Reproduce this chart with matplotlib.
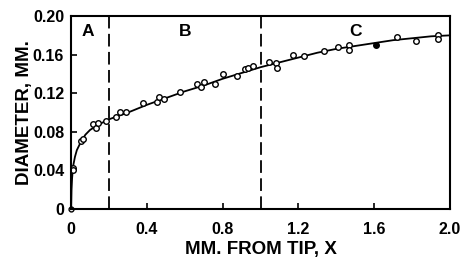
import numpy as np
import matplotlib.pyplot as plt

plt.rcParams["font.family"] = "Liberation Sans"
plt.rcParams["font.weight"] = "bold"

# measured points (mm from tip, diameter mm)
x_pts = [0.009, 0.012, 0.051, 0.065, 0.118, 0.13, 0.144, 0.183, 0.237, 0.259, 0.29,
         0.38, 0.452, 0.464, 0.49, 0.577, 0.663, 0.684, 0.70, 0.76, 0.80, 0.874,
         0.918, 0.936, 0.962, 1.046, 1.082, 1.085, 1.17, 1.23, 1.335, 1.41, 1.469,
         1.469, 1.719, 1.82, 1.935, 1.935]
d_pts = [0.043, 0.040, 0.070, 0.073, 0.088, 0.084, 0.089, 0.091, 0.095, 0.101, 0.101,
         0.110, 0.111, 0.116, 0.114, 0.121, 0.130, 0.126, 0.132, 0.130, 0.1396, 0.138,
         0.145, 0.1458, 0.148, 0.152, 0.151, 0.146, 0.160, 0.159, 0.164, 0.1676, 0.1696,
         0.165, 0.178, 0.1745, 0.180, 0.176]
# filled point
x_fill = [1.608]
d_fill = [0.1696]

# fitted curve
x_fit = [0, 0.002, 0.005, 0.01, 0.02, 0.03, 0.05, 0.075, 0.1, 0.15, 0.2, 0.3, 0.4, 0.5,
         0.6, 0.7, 0.8, 0.9, 1.0, 1.1, 1.2, 1.3, 1.4, 1.5, 1.6, 1.7, 1.8, 1.9, 2.0]
d_fit = [0, 0.02, 0.032, 0.044, 0.054, 0.061, 0.069, 0.077, 0.082, 0.088, 0.093, 0.1,
         0.108, 0.115, 0.122, 0.128, 0.135, 0.141, 0.147, 0.152, 0.157, 0.162, 0.166,
         0.169, 0.172, 0.175, 0.177, 0.179, 0.180]

zone_bounds = [0.2, 1.0]
zone_labels = ["A", "B", "C"]
zone_label_x = [0.09, 0.6, 1.5]

fig = plt.figure(figsize=(4.62, 2.59), dpi=100)
ax = fig.add_axes([0.154, 0.193, 0.820, 0.745])

ax.plot(x_fit, d_fit, color="black", lw=1.3)
ax.plot(x_pts, d_pts, "o", ms=4, mfc="white", mec="black", mew=1.0)
ax.plot(x_fill, d_fill, "o", ms=4, mfc="black", mec="black")
ax.plot([0], [0], "o", ms=3.5, mfc="white", mec="black", mew=1.0, clip_on=False)

for xb in zone_bounds:
    ax.axvline(xb, color="black", lw=1.3, ls=(0, (7, 3)))
for lab, xl in zip(zone_labels, zone_label_x):
    ax.text(xl, 0.184, lab, ha="center", va="center", fontsize=12.5, fontweight="bold")

ax.set_xlim(0, 2.0)
ax.set_ylim(0, 0.20)
ax.set_xticks([0, 0.4, 0.8, 1.2, 1.6, 2.0])
ax.set_xticklabels(["0", "0.4", "0.8", "1.2", "1.6", "2.0"])
ax.set_yticks([0, 0.04, 0.08, 0.12, 0.16, 0.20])
ax.set_yticklabels(["0", "0.04", "0.08", "0.12", "0.16", "0.20"])
ax.tick_params(direction="in", length=4, width=1.2, labelsize=11.5)
ax.tick_params(axis="x", pad=9.5)
ax.tick_params(axis="y", pad=5)
for s in ax.spines.values():
    s.set_linewidth(1.5)

ax.set_xlabel("MM. FROM TIP, X", fontsize=13.5, fontweight="bold", labelpad=3)
ax.set_ylabel("DIAMETER, MM.", fontsize=13.5, fontweight="bold", labelpad=0)

plt.savefig("out.png", dpi=100)
